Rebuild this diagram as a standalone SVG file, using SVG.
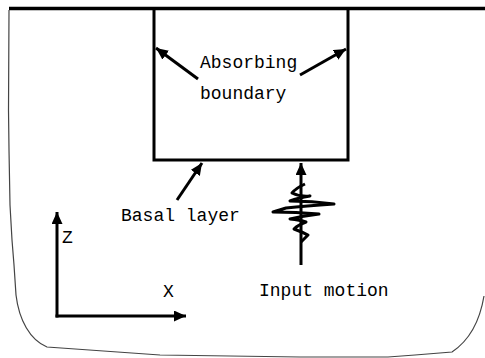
<svg xmlns="http://www.w3.org/2000/svg" width="485" height="358" viewBox="0 0 485 358">
  <style>
    .lbl { font-family: "Liberation Mono", "DejaVu Sans Mono", monospace; font-size: 18px; fill: #000; }
    .thick { stroke: #000; stroke-width: 3; fill: none; }
    .frame { stroke: #444; stroke-width: 1.2; fill: none; }
  </style>
  <defs>
    <marker id="head" markerUnits="userSpaceOnUse" markerWidth="16" markerHeight="14" refX="12" refY="5.5" orient="auto">
      <path d="M0,0 L12,5.5 L0,11 Z" fill="#000"/>
    </marker>
  </defs>

  <rect width="485" height="358" fill="#fff"/>

  <!-- ground surface and outer boundary of the soil domain -->
  <g id="ground">
    <line x1="9" y1="8.5" x2="485" y2="8.5" stroke="#000" stroke-width="3.5"/>
    <path class="frame" d="M9,10 L8.5,110 L9,150 L10,205 L12,240 L14,265 L16,295 C19,320 30,340 47,347 L160,355 L300,357 L388,357 L415,355 L452,352 C470,340 480,320 484,296"/>
  </g>

  <!-- computational box: left, bottom and right boundaries -->
  <g id="box">
    <path class="thick" d="M154,8 L154,160 L348,160 L348,8"/>
  </g>

  <g id="labels">
    <text class="lbl" x="200" y="68">Absorbing</text>
    <text class="lbl" x="200" y="99">boundary</text>
    <text class="lbl" x="121" y="221">Basal layer</text>
    <text class="lbl" x="259" y="296">Input motion</text>
    <text class="lbl" x="62" y="243">Z</text>
    <text class="lbl" x="163" y="297">X</text>
  </g>

  <!-- input motion record -->
  <g id="motion">
    <path class="thick" stroke-linejoin="round" stroke-width="3.2" d="M305,184 Q296,188 292,193 Q300,197 310,196 Q298,198 290,201 Q312,201 334,204 Q305,206 286,208 L273,212 Q296,212 319,214 Q303,216 290,219 Q300,220 306,222 Q298,225 294,229 Q302,232 308,235 L301,242"/>
  </g>

  <g id="connectors">
    <line class="thick" x1="198" y1="79" x2="156" y2="48" marker-end="url(#head)"/>
    <line class="thick" x1="300" y1="75" x2="346" y2="49" marker-end="url(#head)"/>
    <line class="thick" x1="177" y1="200" x2="202" y2="163" marker-end="url(#head)"/>
    <line class="thick" x1="301" y1="265" x2="301" y2="163" marker-end="url(#head)"/>
    <line class="thick" x1="57" y1="317.5" x2="57" y2="212" marker-end="url(#head)"/>
    <line class="thick" x1="55.5" y1="316" x2="186" y2="316" marker-end="url(#head)"/>
  </g>
</svg>
